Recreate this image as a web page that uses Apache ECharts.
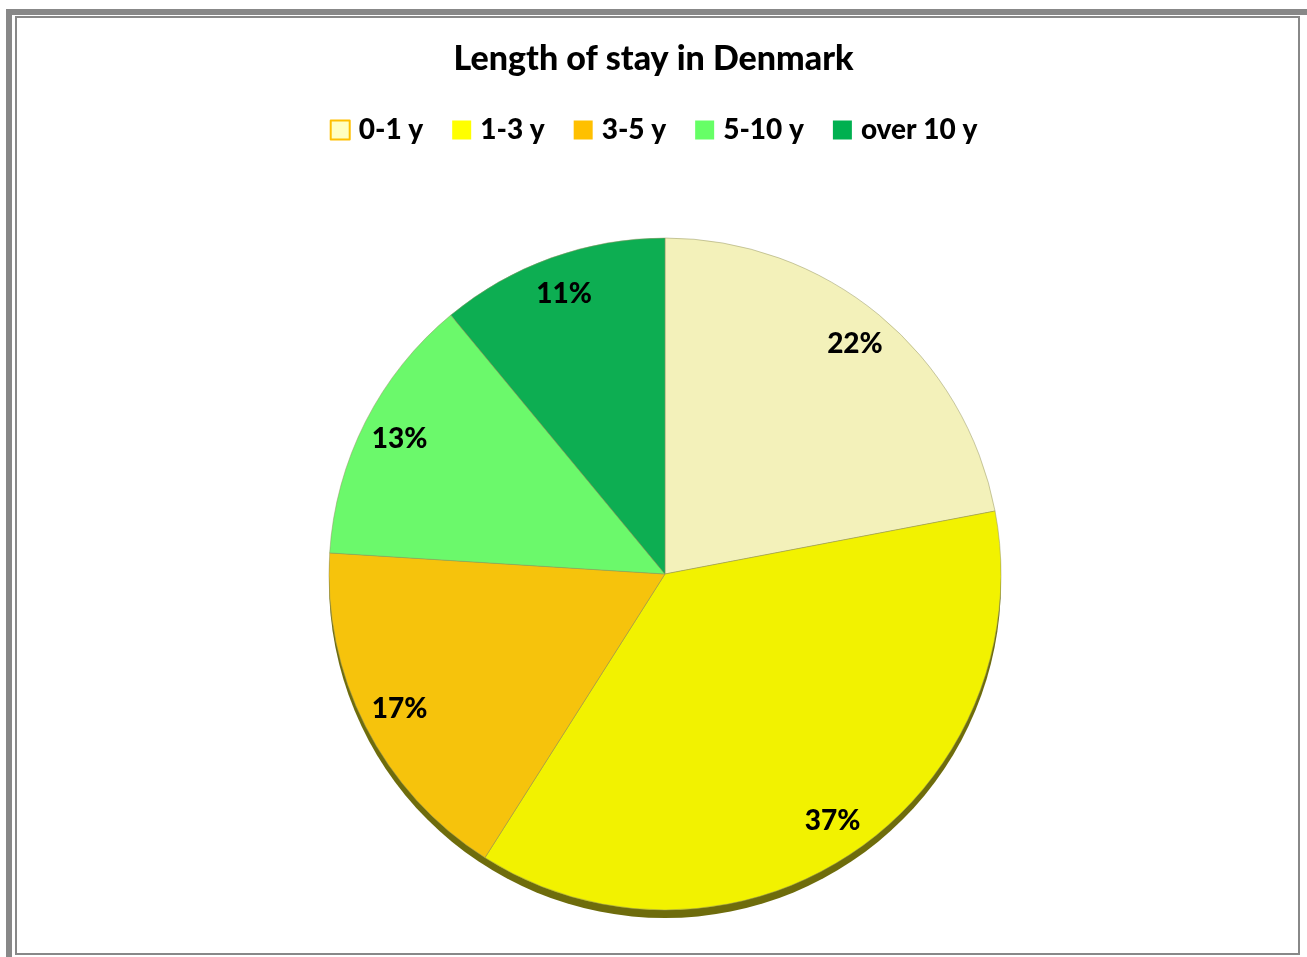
<!DOCTYPE html>
<html lang="en">
<head>
<meta charset="UTF-8" />
<title>Length of stay in Denmark</title>
<style>
    html, body { margin: 0; padding: 0; background: #fff; }
    #chart { width: 1307px; height: 957px; }
</style>
</head>
<body>
<div id="chart"></div>
<script src="https://cdn.jsdelivr.net/npm/echarts@6/dist/echarts.min.js"></script>
<script>
// data
var categories = ['0-1 y', '1-3 y', '3-5 y', '5-10 y', 'over 10 y'];
var shares = [22, 37, 17, 13, 11];
var sliceColors = ['#F3F1BA', '#F2F200', '#F6C30C', '#6BF96B', '#0DAE52'];
var legendColors = ['#FFFFC0', '#FFFF00', '#FFC000', '#66FF66', '#00B050'];

var chart = echarts.init(document.getElementById('chart'));

var center = [665, 574];
var R = 336;
var font = 'Lato, "Open Sans", sans-serif';

var pieData = categories.map(function (c, i) {
    return { name: c, value: shares[i], itemStyle: { color: sliceColors[i] } };
});

var legendData = categories.map(function (c, i) {
    var st = { color: legendColors[i], borderWidth: 0 };
    if (i === 0) { st.borderColor = '#FFC000'; st.borderWidth = 2; }
    return { name: c, itemStyle: st };
});

var option = {
    backgroundColor: '#fff',
    animation: false,
    title: {
        text: 'Length of stay in Denmark',
        left: 'center',
        top: 37,
        textStyle: { fontFamily: font, fontWeight: 900, fontSize: 34, color: '#000' }
    },
    legend: {
        data: legendData,
        left: 'center',
        top: 111,
        icon: 'rect',
        itemWidth: 19,
        itemHeight: 19,
        itemGap: 29,
        textStyle: { fontFamily: font, fontWeight: 900, fontSize: 28, color: '#000', padding: [0, 0, 0, 4] }
    },
    graphic: [
        { type: 'rect', shape: { x: 9, y: 12, width: 1310, height: 960 }, style: { fill: 'none', stroke: '#888', lineWidth: 6 } },
        { type: 'rect', shape: { x: 16, y: 17, width: 1283, height: 937 }, style: { fill: 'none', stroke: '#888', lineWidth: 2 } }
    ],
    series: [
        {
            // bottom rim
            type: 'pie',
            silent: true,
            center: [center[0], center[1] + 8],
            radius: R,
            label: { show: false },
            data: [{ value: 1, itemStyle: { color: '#6E6C0C' } }],
            z: 1
        },
        {
            type: 'pie',
            center: center,
            radius: R,
            startAngle: 90,
            clockwise: true,
            label: { show: false },
            labelLine: { show: false },
            itemStyle: { borderColor: 'rgba(150,150,100,0.5)', borderWidth: 1 },
            data: pieData,
            z: 2
        },
        {
            // label ring
            type: 'pie',
            silent: true,
            center: center,
            radius: [254, R],
            startAngle: 90,
            clockwise: true,
            itemStyle: { color: 'transparent' },
            label: {
                show: true,
                position: 'inside',
                formatter: '{c}%',
                fontFamily: font,
                fontWeight: 900,
                fontSize: 28,
                color: '#000'
            },
            labelLine: { show: false },
            data: categories.map(function (c, i) { return { name: c, value: shares[i] }; }),
            z: 3
        }
    ]
};

chart.setOption(option);
</script>
</body>
</html>
